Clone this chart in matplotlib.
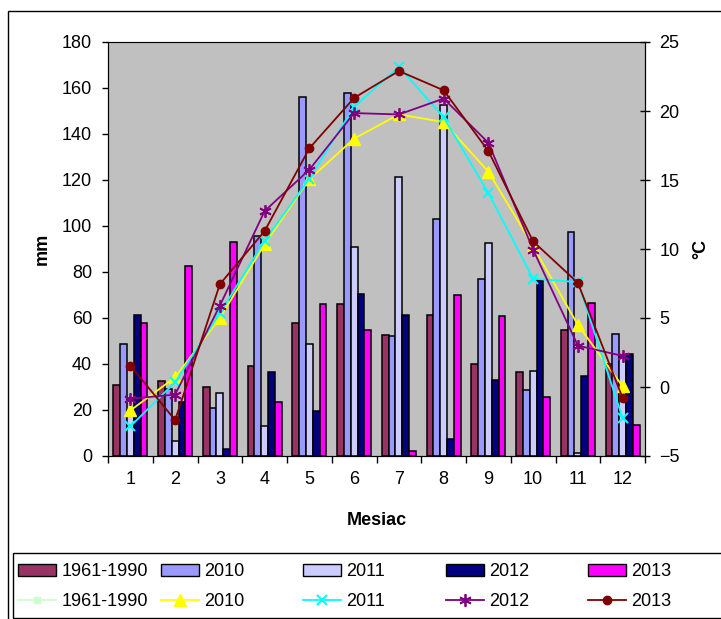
import numpy as np
import matplotlib
matplotlib.use('Agg')
import matplotlib.pyplot as plt
from matplotlib.patches import Rectangle, Patch
from matplotlib.lines import Line2D

plt.rcParams['font.family'] = ['Liberation Sans', 'DejaVu Sans']
plt.rcParams['font.size'] = 13

# zrážky (mm) podľa mesiacov
months = np.arange(1, 13)
month_labels = [str(m) for m in months]
p_1961 = [31, 32.5, 30, 39, 58, 66, 52.5, 61.5, 40, 36.5, 55, 40]
p_2010 = [48.5, 29, 21, 95.5, 156, 158, 52, 103, 77, 28.5, 97.5, 53]
p_2011 = [20, 6.5, 27.5, 13, 48.5, 91, 121.5, 152.5, 92.5, 37, 1.5, 43]
p_2012 = [61.5, 23.5, 3, 36.5, 19.5, 70.5, 61.5, 7.5, 33, 76.5, 35, 44.5]
p_2013 = [58, 82.5, 93, 23.5, 66, 55, 2, 70, 61, 25.5, 66.5, 13.5]

# teploty (°C)
t_2010 = [-1.7, 0.7, 5.0, 10.35, 15.05, 18.0, 19.75, 19.2, 15.6, 10.2, 4.5, 0.05]
t_2011 = [-2.85, 0.35, 5.35, 10.6, 15.1, 20.3, 23.2, 19.55, 14.05, 7.85, 7.6, -2.25]
t_2012 = [-0.85, -0.55, 5.9, 12.75, 15.75, 19.85, 19.75, 20.9, 17.7, 9.95, 3.0, 2.25]
t_2013 = [1.55, -2.4, 7.45, 11.3, 17.3, 20.95, 22.9, 21.5, 17.1, 10.55, 7.55, -0.8]

series_labels = ['1961-1990', '2010', '2011', '2012', '2013']
bar_colors = ['#993366', '#9999FF', '#CCCCFF', '#000080', '#FF00FF']

W, H = 721, 619
fig = plt.figure(figsize=(W / 100, H / 100), dpi=100)
ax = fig.add_axes([108 / W, 1 - 456 / H, 537 / W, 414 / H])
ax.set_facecolor('#C0C0C0')

bw = 0.152
precip = [p_1961, p_2010, p_2011, p_2012, p_2013]
bar_handles = []
for i, (vals, c) in enumerate(zip(precip, bar_colors)):
    ax.bar(months + (i - 2) * bw, vals, bw, color=c, edgecolor='black', linewidth=1.1, zorder=2)
    bar_handles.append(Patch(facecolor=c, edgecolor='black', linewidth=1, label=series_labels[i]))

ax.set_xlim(0.5, 12.5)
ax.set_ylim(0, 180)
ax.set_yticks(np.arange(0, 181, 20))
ax.set_xticks(months)
ax.set_xticklabels(month_labels)
ax.set_xticks(np.arange(0.5, 12.6, 1), minor=True)
ax.tick_params(axis='x', which='major', length=0, pad=11)
ax.tick_params(axis='x', which='minor', length=5, direction='out', width=1)
ax.tick_params(axis='y', length=4.5, direction='out', pad=7, width=1)
ax.spines['top'].set_color('#808080')
ax.set_ylabel('mm', fontweight='bold')
ax.yaxis.set_label_coords(-0.107, 0.5)
ax.set_xlabel('Mesiac', fontweight='bold')
ax.xaxis.set_label_coords(0.5, -0.135)

ax2 = ax.twinx()
ax2.set_ylim(-5, 25)
ax2.set_yticks(np.arange(-5, 26, 5))
ax2.tick_params(axis='y', length=7, direction='inout', pad=7, width=1)
ax2.set_ylabel('°C', fontweight='bold', rotation=90)
ax2.yaxis.set_label_coords(1.088, 0.5)

l2010, = ax2.plot(months, t_2010, color='#FFFF00', lw=1.3, marker='^', ms=8, label='2010')
l2011, = ax2.plot(months, t_2011, color='#00FFFF', lw=1.3, marker='x', ms=7, mew=1.5, label='2011')
l2012, = ax2.plot(months, t_2012, color='#800080', lw=1.3, marker=(6, 2, 0), ms=9, mew=1.3, label='2012')
l2013, = ax2.plot(months, t_2013, color='#800000', lw=1.3, marker='o', ms=6, label='2013')
l1961 = Line2D([], [], color='#CCFFCC', lw=1.3, marker='s', ms=5, label='1961-1990')
line_handles = [l1961, l2010, l2011, l2012, l2013]

# rámy
fig.patches.append(Rectangle((8 / W, -0.1), 2, 1 - 11 / H + 0.1, transform=fig.transFigure,
                             fill=False, edgecolor='black', lw=1))
fig.patches.append(Rectangle((13 / W, 1 - 618 / H), 2, 65 / H, transform=fig.transFigure,
                             fill=False, edgecolor='black', lw=1))

col_x = [18, 161, 303, 446, 588]
for i in range(5):
    fig.legend(handles=[bar_handles[i], line_handles[i]], loc='center left',
               bbox_to_anchor=(col_x[i] / W, 1 - 586.5 / H), frameon=False,
               handlelength=2.1, handletextpad=0.3, labelspacing=0.7,
               borderpad=0, borderaxespad=0, fontsize=13)

fig.savefig('out.png', dpi=100)
